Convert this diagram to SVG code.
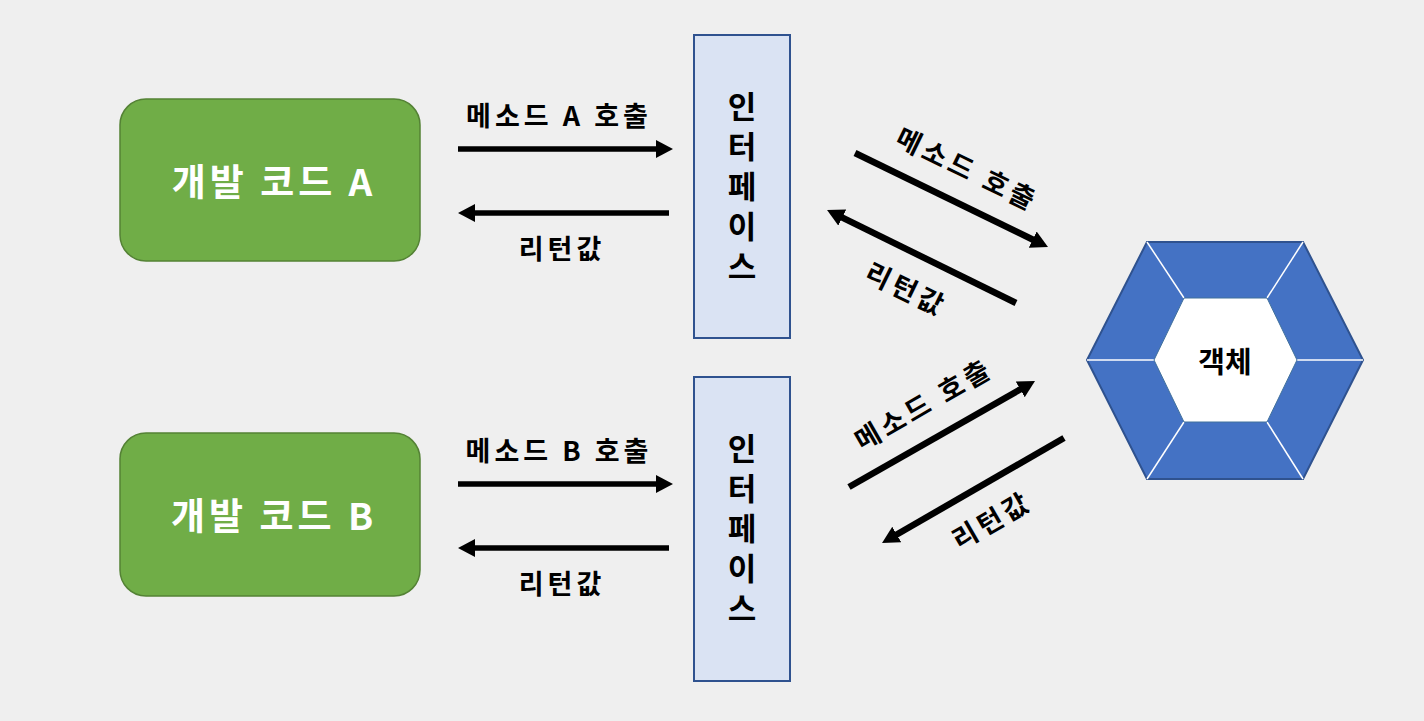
<svg xmlns="http://www.w3.org/2000/svg" width="1424" height="721" viewBox="0 0 1424 721">
<defs>
<style>
.bg{fill:#EFEFEF}
.dev{fill:#70AD47;stroke:#548235;stroke-width:1.5}
.devt{font-family:"Noto Sans CJK KR","Noto Sans",sans-serif;font-weight:bold;font-size:37px;letter-spacing:4px;fill:#FFFFFF;text-anchor:middle;dominant-baseline:central}
.itf{fill:#DAE3F3;stroke:#2F528F;stroke-width:2}
.itft{font-family:"Noto Sans CJK KR","Noto Sans",sans-serif;font-weight:bold;font-size:31px;fill:#000;text-anchor:middle;writing-mode:vertical-rl;letter-spacing:9px}
.objt{font-family:"Noto Sans CJK KR","Noto Sans",sans-serif;font-weight:bold;font-size:29px;fill:#000;text-anchor:middle;dominant-baseline:central}
.lbl{font-family:"Noto Sans CJK KR","Noto Sans",sans-serif;font-weight:bold;font-size:27px;fill:#000;text-anchor:middle;dominant-baseline:central;letter-spacing:4px}
.ln{stroke:#000;stroke-width:5.5;fill:none;marker-end:url(#ah)}
.dl{stroke:#000;stroke-width:6.5;fill:none;marker-end:url(#ah)}
.hexo{fill:#4472C4;stroke:#2F528F;stroke-width:2}
.hexi{fill:#FFFFFF;stroke:#41719C;stroke-width:1}
.hexl{stroke:#FFFFFF;stroke-width:1.5}
</style>
<marker id="ah" markerUnits="userSpaceOnUse" markerWidth="20" markerHeight="20" refX="1" refY="9" orient="auto">
<path d="M0,0 L17,9 L0,18 z" fill="#000"/>
</marker>
</defs>
<rect class="bg" x="0" y="0" width="1424" height="721"/>

<g id="devA">
<rect class="dev" x="120" y="99" width="300" height="162" rx="26" ry="26"/>
<text class="devt" x="274" y="180">개발 코드 A</text>
</g>
<g id="devB">
<rect class="dev" x="120" y="433" width="300" height="163" rx="26" ry="26"/>
<text class="devt" x="274" y="514">개발 코드 B</text>
</g>

<g id="ifA">
<rect class="itf" x="694" y="35" width="96" height="303"/>
<text class="itft" x="742" y="191">인터페이스</text>
</g>
<g id="ifB">
<rect class="itf" x="694" y="377" width="96" height="304"/>
<text class="itft" x="742" y="533">인터페이스</text>
</g>

<g id="obj">
<polygon class="hexo" points="1087,360 1147,242 1303,242 1363,360 1303,479 1147,479"/>
<line class="hexl" x1="1147" y1="242" x2="1184" y2="298"/>
<line class="hexl" x1="1303" y1="242" x2="1267" y2="298"/>
<line class="hexl" x1="1087" y1="360" x2="1154" y2="360"/>
<line class="hexl" x1="1363" y1="360" x2="1297" y2="360"/>
<line class="hexl" x1="1147" y1="479" x2="1184" y2="422"/>
<line class="hexl" x1="1303" y1="479" x2="1267" y2="422"/>
<polygon class="hexi" points="1154,360 1184,298 1267,298 1297,360 1267,422 1184,422"/>
<text class="objt" x="1225" y="360">객체</text>
</g>

<g id="connectors">
<line class="ln" x1="458" y1="149" x2="657" y2="149"/>
<line class="ln" x1="669" y1="213" x2="474" y2="213"/>
<line class="ln" x1="458" y1="484" x2="657" y2="484"/>
<line class="ln" x1="669" y1="548" x2="474" y2="548"/>
<line class="dl" x1="855" y1="153" x2="1033.6" y2="240"/>
<line class="dl" x1="1016" y1="303" x2="841.4" y2="217.1"/>
<line class="dl" x1="849" y1="487" x2="1021.1" y2="388.9"/>
<line class="dl" x1="1064" y1="438" x2="895.9" y2="535"/>
<text class="lbl" x="559" y="114">메소드 A 호출</text>
<text class="lbl" x="562" y="247">리턴값</text>
<text class="lbl" x="559" y="449">메소드 B 호출</text>
<text class="lbl" x="562" y="582">리턴값</text>
<text class="lbl" x="968" y="168" transform="rotate(26 968 168)">메소드 호출</text>
<text class="lbl" x="907" y="288" transform="rotate(26 907 288)">리턴값</text>
<text class="lbl" x="923" y="403" transform="rotate(-30 923 403)">메소드 호출</text>
<text class="lbl" x="991" y="519" transform="rotate(-30 991 519)">리턴값</text>
</g>
</svg>
